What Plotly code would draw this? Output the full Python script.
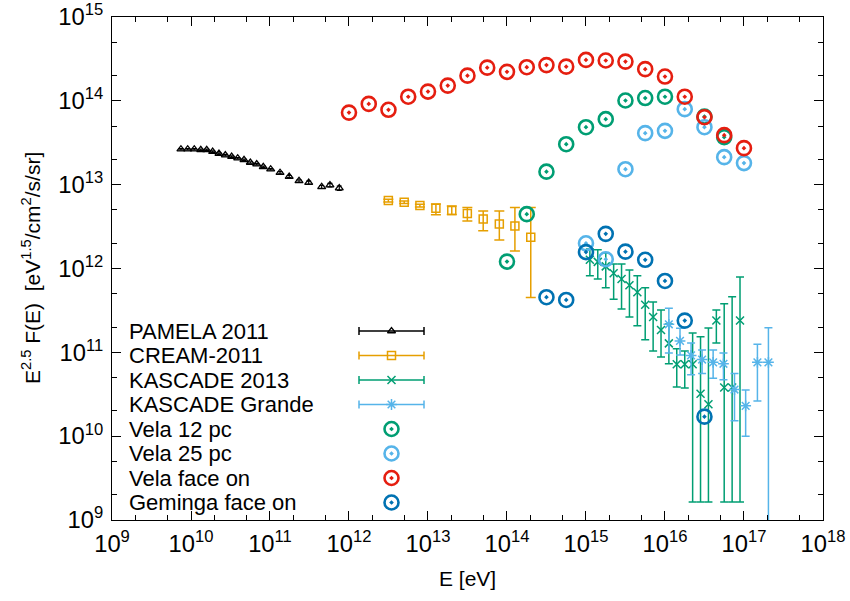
import plotly.graph_objects as go

# ---------------- data ----------------
pamela_E = [7.46e9, 9.08e9, 1.10e10, 1.33e10, 1.58e10, 1.88e10, 2.26e10, 2.72e10, 3.27e10, 3.90e10,
            4.69e10, 5.64e10, 6.79e10, 8.22e10, 1.02e11, 1.34e11, 1.75e11, 2.33e11, 3.09e11, 4.51e11,
            5.74e11, 7.53e11]
pamela_F = [2.65e13, 2.65e13, 2.65e13, 2.60e13, 2.60e13, 2.48e13, 2.35e13, 2.25e13, 2.16e13, 2.07e13,
            1.98e13, 1.84e13, 1.76e13, 1.63e13, 1.53e13, 1.39e13, 1.25e13, 1.11e13, 1.06e13, 9.4e12,
            9.9e12, 9.1e12]
pamela_rel_err = [0.02, 0.02, 0.02, 0.02, 0.02, 0.02, 0.02, 0.02, 0.02, 0.02,
                  0.02, 0.02, 0.02, 0.02, 0.02, 0.03, 0.03, 0.03, 0.04, 0.04,
                  0.05, 0.06]

cream_E = [3.15e12, 5.0e12, 7.9e12, 1.26e13, 2.0e13, 3.15e13, 5.0e13, 8.0e13, 1.26e14, 2.0e14]
cream_F = [6.46e12, 6.18e12, 5.64e12, 5.24e12, 4.91e12, 4.52e12, 3.91e12, 3.40e12, 3.22e12, 2.36e12]
cream_up = [6.7e12, 6.4e12, 5.85e12, 5.9e12, 5.58e12, 5.33e12, 4.87e12, 4.87e12, 5.33e12, 5.33e12]
cream_lo = [6.2e12, 5.95e12, 5.4e12, 4.37e12, 4.4e12, 3.7e12, 2.83e12, 2.19e12, 1.62e12, 4.5e11]

kas13_E = [1.12e15, 1.41e15, 1.78e15, 2.24e15, 2.82e15, 3.55e15, 4.47e15, 5.62e15, 7.08e15, 8.91e15,
           1.12e16, 1.41e16, 1.78e16, 2.24e16, 2.82e16, 3.55e16, 4.47e16, 5.62e16, 7.08e16, 8.91e16]
kas13_F = [1.27e12, 1.20e12, 1.06e12, 8.8e11, 7.5e11, 6.3e11, 5.2e11, 3.7e11, 2.64e11, 1.85e11,
           1.28e11, 7.2e10, 7.2e10, 7.2e10, 3.2e10, 2.4e10, 2.4e11, 3.8e10, 3.8e10, 2.4e11]
kas13_up = [1.71e12, 1.67e12, 1.53e12, 1.13e12, 1.13e12, 9.6e11, 8.2e11, 5.9e11, 4.0e11, 3.2e11,
            2.18e11, 1.10e11, 1.04e11, 1.7e11, 1.53e11, 1.95e11, 3.2e11, 3.8e11, 4.6e11, 7.9e11]
kas13_lo = [8.2e11, 7.5e11, 5.9e11, 4.3e11, 3.3e11, 2.64e11, 2.07e11, 1.41e11, 1.04e11, 8.8e10,
            7.3e10, 3.86e10, 3.76e10, 1.64e9, 1.64e9, 1.64e9, 1.29e11, 1.64e9, 1.64e9, 1.64e9]

kasg_E = [1.12e16, 1.55e16, 2.14e16, 2.95e16, 4.07e16, 5.50e16, 7.59e16, 1.05e17, 1.48e17, 2.04e17]
kasg_F = [2.16e11, 1.37e11, 9.2e10, 8.2e10, 7.6e10, 7.3e10, 3.6e10, 2.3e10, 7.6e10, 7.6e10]
kasg_up = [3.36e11, 1.94e11, 1.29e11, 1.07e11, 1.07e11, 9.8e10, 5.6e10, 3.56e10, 1.25e11, 1.97e11]
kasg_lo = [9.8e10, 9.3e10, 5.4e10, 5.6e10, 4.9e10, 4.7e10, 1.53e10, 1.0e10, 2.63e10, 5e8]

vela12_E = [1.0e14, 1.78e14, 3.16e14, 5.62e14, 1.0e15, 1.78e15, 3.16e15, 5.62e15, 1.0e16, 3.16e16, 5.62e16]
vela12_F = [1.21e12, 4.45e12, 1.43e13, 3.04e13, 4.85e13, 6.05e13, 1.01e14, 1.08e14, 1.12e14, 6.5e13, 3.69e13]

vela25_E = [1.0e15, 1.78e15, 3.16e15, 5.62e15, 1.0e16, 1.78e16, 3.16e16, 5.62e16, 1.0e17]
vela25_F = [2.0e12, 1.29e12, 1.53e13, 4.12e13, 4.39e13, 7.96e13, 4.85e13, 2.13e13, 1.81e13]

velaface_E = [1.0e12, 1.78e12, 3.16e12, 5.62e12, 1.0e13, 1.78e13, 3.16e13, 5.62e13, 1.0e14, 1.78e14,
              3.16e14, 5.62e14, 1.0e15, 1.78e15, 3.16e15, 5.62e15, 1.0e16, 1.78e16, 3.16e16, 5.62e16, 1.0e17]
velaface_F = [7.24e13, 9.2e13, 7.82e13, 1.12e14, 1.29e14, 1.52e14, 2.0e14, 2.49e14, 2.22e14, 2.52e14,
              2.67e14, 2.56e14, 3.08e14, 3.03e14, 2.94e14, 2.39e14, 1.95e14, 1.12e14, 6.38e13, 3.9e13, 2.73e13]

geminga_E = [3.16e14, 5.62e14, 1.0e15, 1.78e15, 3.16e15, 5.62e15, 1.0e16, 1.78e16, 3.16e16]
geminga_F = [4.55e11, 4.22e11, 1.57e12, 2.59e12, 1.59e12, 1.27e12, 7.11e11, 2.39e11, 1.71e10]

legend_labels = ["PAMELA 2011", "CREAM-2011", "KASCADE 2013", "KASCADE Grande",
                 "Vela 12 pc", "Vela 25 pc", "Vela face on", "Geminga face on"]
x_title = "E [eV]"
y_title = "E<sup>2.5</sup> F(E)  [eV<sup>1.5</sup>/cm<sup>2</sup>/s/sr]"

# ---------------- style ----------------
FONT = "Liberation Sans, Arial, Helvetica, sans-serif"
C_BLACK = "#000000"
C_ORANGE = "#e69f00"
C_GREEN = "#009e73"
C_LBLUE = "#56b4e9"
C_RED = "#e51e10"
C_BLUE = "#0072b2"


def asym(F, up, lo):
    return dict(type="data", symmetric=False,
                array=[u - f for u, f in zip(up, F)],
                arrayminus=[f - l for f, l in zip(F, lo)])


fig = go.Figure()

# PAMELA
fig.add_trace(go.Scatter(
    x=pamela_E, y=pamela_F, mode="markers", showlegend=False,
    marker=dict(symbol="triangle-up-open", size=7, color=C_BLACK, line=dict(width=1.3, color=C_BLACK)),
    error_y=dict(type="data", array=[f * r for f, r in zip(pamela_F, pamela_rel_err)],
                 color=C_BLACK, thickness=1.2, width=2.5),
))

# CREAM
fig.add_trace(go.Scatter(
    x=cream_E, y=cream_F, mode="markers", showlegend=False,
    marker=dict(symbol="square-open", size=8, color=C_ORANGE, line=dict(width=1.5, color=C_ORANGE)),
    error_y=dict(asym(cream_F, cream_up, cream_lo), color=C_ORANGE, thickness=1.5, width=5),
))

# KASCADE 2013
fig.add_trace(go.Scatter(
    x=kas13_E, y=kas13_F, mode="markers", showlegend=False,
    marker=dict(symbol="x-thin-open", size=8, color=C_GREEN, line=dict(width=1.5, color=C_GREEN)),
    error_y=dict(asym(kas13_F, kas13_up, kas13_lo), color=C_GREEN, thickness=1.5, width=4),
))

# KASCADE Grande
fig.add_trace(go.Scatter(
    x=kasg_E, y=kasg_F, mode="markers", showlegend=False,
    marker=dict(symbol="asterisk-open", size=9, color=C_LBLUE, line=dict(width=1.5, color=C_LBLUE)),
    error_y=dict(asym(kasg_F, kasg_up, kasg_lo), color=C_LBLUE, thickness=1.5, width=4),
))


def circle_marker(c):
    return dict(symbol="circle-open-dot", size=14, color=c, line=dict(width=2.6, color=c))


fig.add_trace(go.Scatter(x=vela12_E, y=vela12_F, mode="markers", showlegend=False, marker=circle_marker(C_GREEN)))
fig.add_trace(go.Scatter(x=vela25_E, y=vela25_F, mode="markers", showlegend=False, marker=circle_marker(C_LBLUE)))
fig.add_trace(go.Scatter(x=velaface_E, y=velaface_F, mode="markers", showlegend=False, marker=circle_marker(C_RED)))
fig.add_trace(go.Scatter(x=geminga_E, y=geminga_F, mode="markers", showlegend=False, marker=circle_marker(C_BLUE)))

# ---------------- custom gnuplot-style key (overlay axes in pixel units) ----------------
W, H = 850, 601
PLOT_L, PLOT_R, PLOT_T, PLOT_B = 112, 823, 17, 520
key_rows_y0 = 331
key_step = 24.5
key_text_x = 128
key_sample_x = 391.5
key_half = 32.5
key_styles = [
    ("triangle-up-open", C_BLACK, 7, 1.3, True),
    ("square-open", C_ORANGE, 8, 1.5, True),
    ("x-thin-open", C_GREEN, 8, 1.5, True),
    ("asterisk-open", C_LBLUE, 9, 1.5, True),
    ("circle-open-dot", C_GREEN, 14, 2.6, False),
    ("circle-open-dot", C_LBLUE, 14, 2.6, False),
    ("circle-open-dot", C_RED, 14, 2.6, False),
    ("circle-open-dot", C_BLUE, 14, 2.6, False),
]
annotations = []
for i, (label, (sym, col, sz, lw, has_err)) in enumerate(zip(legend_labels, key_styles)):
    ry = key_rows_y0 + i * key_step
    tr = go.Scatter(x=[key_sample_x], y=[ry], mode="markers", showlegend=False,
                    xaxis="x2", yaxis="y2",
                    marker=dict(symbol=sym, size=sz, color=col, line=dict(width=lw, color=col)))
    if has_err:
        tr.error_x = dict(type="data", array=[key_half], color=col, thickness=1.5, width=4)
    fig.add_trace(tr)
    annotations.append(dict(x=key_text_x, y=ry, xref="x2", yref="y2", text=label, showarrow=False,
                            xanchor="left", yanchor="middle", borderpad=0,
                            font=dict(size=22, family=FONT, color="black")))

pw, ph = PLOT_R - PLOT_L, PLOT_B - PLOT_T
annotations.append(dict(x=(467 - PLOT_L) / pw, y=(PLOT_B - 578) / ph, xref="paper", yref="paper",
                        text=x_title, showarrow=False, xanchor="center", yanchor="middle", borderpad=0,
                        font=dict(size=21, family=FONT, color="black")))
annotations.append(dict(x=(31 - PLOT_L) / pw, y=(PLOT_B - 268) / ph, xref="paper", yref="paper",
                        text=y_title, showarrow=False, textangle=-90, xanchor="center", yanchor="middle",
                        borderpad=0, font=dict(size=21, family=FONT, color="black")))

axis_common = dict(
    type="log", dtick=1, exponentformat="power", showgrid=False, zeroline=False,
    showline=True, linecolor="black", linewidth=1, mirror="allticks",
    ticks="inside", ticklen=9, tickwidth=1, tickcolor="black", automargin=False,
    minor=dict(ticks="inside", ticklen=5, tickwidth=1, tickcolor="black", dtick="D2", showgrid=False),
    tickfont=dict(size=19, family=FONT, color="black"),
)

fig.update_layout(
    width=W, height=H,
    margin=dict(l=PLOT_L, r=W - PLOT_R, t=PLOT_T, b=H - PLOT_B, autoexpand=False),
    paper_bgcolor="white", plot_bgcolor="white",
    font=dict(family=FONT, color="black"),
    xaxis=dict(axis_common, range=[9, 18.0004], ticklabelstandoff=3),
    yaxis=dict(axis_common, range=[9, 15.0004], ticklabelstandoff=4),
    xaxis2=dict(overlaying="x", range=[PLOT_L, PLOT_R], visible=False, anchor="y2", automargin=False),
    yaxis2=dict(overlaying="y", range=[PLOT_B, PLOT_T], visible=False, anchor="x2", automargin=False),
    annotations=annotations,
    showlegend=False,
)

fig.write_html("out.html", config={"displayModeBar": False, "staticPlot": True},
               post_script="document.body.style.margin='0';document.body.style.overflow='hidden';")
